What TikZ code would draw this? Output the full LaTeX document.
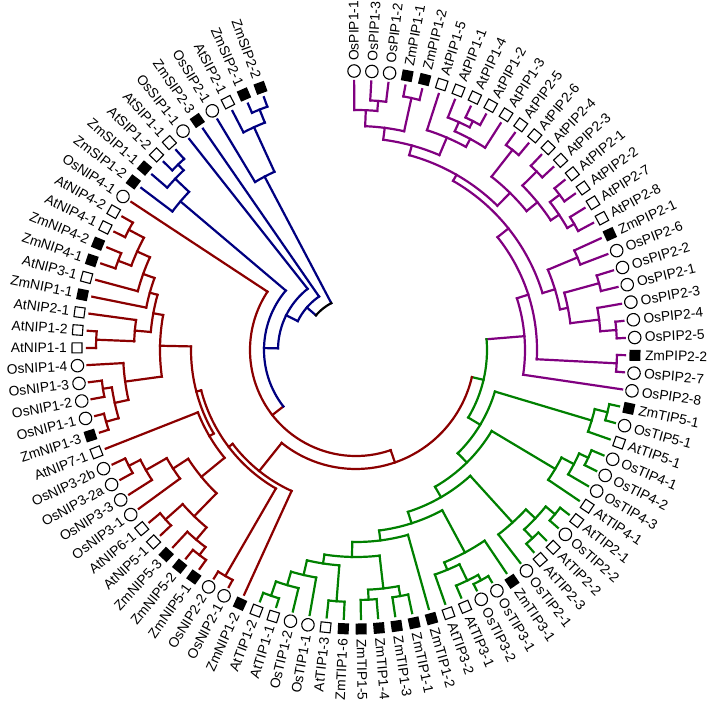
\documentclass[tikz,border=0pt]{standalone}
\usepackage{fontspec}
\setmainfont{Liberation Sans}
\definecolor{pipc}{RGB}{128,0,128}
\definecolor{tipc}{RGB}{0,128,0}
\definecolor{nipc}{RGB}{139,0,0}
\definecolor{sipc}{RGB}{0,0,128}
\tikzset{
  branch/.style={line width=2.2pt, line cap=rect},
  leaflabel/.style={font=\fontsize{13.8}{15}\selectfont, inner sep=1pt},
  markOs/.style={circle, draw, line width=1.1pt, minimum size=12.5pt, inner sep=0pt},
  markAt/.style={rectangle, draw, line width=1.1pt, minimum size=10pt, inner sep=0pt},
  markZm/.style={rectangle, fill=black, minimum size=11pt, inner sep=0pt}
}
% leaf: index, name, kind, colour
\newcommand\leaf[4]{%
  \pgfmathsetmacro\la{90.4-(#1-1)*3.66}%
  \expandafter\xdef\csname a@#2\endcsname{\la}%
  \expandafter\xdef\csname r@#2\endcsname{269}%
  \expandafter\xdef\csname c@#2\endcsname{#4}%
  \node[mark#3, rotate=\la] (sym#1) at (\la:279pt) {};
  \pgfmathtruncatemacro\side{\la<-90?1:0}%
  \ifnum\side=1
    \node[leaflabel, rotate=\la+180, anchor=east] (lab#1) at (\la:288pt) {#2};
  \else
    \node[leaflabel, rotate=\la, anchor=west] (lab#1) at (\la:288pt) {#2};
  \fi}
% clade: name, radius, child, child, colour
\newcommand\clade[5]{%
  \edef\cAa{\csname a@#3\endcsname}\edef\cAr{\csname r@#3\endcsname}\edef\cAc{\csname c@#3\endcsname}%
  \edef\cBa{\csname a@#4\endcsname}\edef\cBr{\csname r@#4\endcsname}\edef\cBc{\csname c@#4\endcsname}%
  \draw[branch, \cAc] (\cAa:\cAr pt) -- (\cAa:#2pt);
  \draw[branch, \cBc] (\cBa:\cBr pt) -- (\cBa:#2pt);
  \draw[branch, #5] (\cAa:#2pt) arc[start angle=\cAa, end angle=\cBa, radius=#2pt];
  \pgfmathsetmacro\cM{(\cAa+\cBa)/2}%
  \expandafter\xdef\csname a@#1\endcsname{\cM}%
  \expandafter\xdef\csname r@#1\endcsname{#2}%
  \expandafter\xdef\csname c@#1\endcsname{#5}}

\begin{document}
\begin{tikzpicture}[x=1pt,y=1pt]
\useasboundingbox (-356,-358) rectangle (356,350);
% leaves, clockwise from the top
\leaf{1}{OsPIP1-1}{Os}{pipc}
\leaf{2}{OsPIP1-3}{Os}{pipc}
\leaf{3}{OsPIP1-2}{Os}{pipc}
\leaf{4}{ZmPIP1-1}{Zm}{pipc}
\leaf{5}{ZmPIP1-2}{Zm}{pipc}
\leaf{6}{AtPIP1-5}{At}{pipc}
\leaf{7}{AtPIP1-1}{At}{pipc}
\leaf{8}{AtPIP1-4}{At}{pipc}
\leaf{9}{AtPIP1-2}{At}{pipc}
\leaf{10}{AtPIP1-3}{At}{pipc}
\leaf{11}{AtPIP2-5}{At}{pipc}
\leaf{12}{AtPIP2-6}{At}{pipc}
\leaf{13}{AtPIP2-4}{At}{pipc}
\leaf{14}{AtPIP2-3}{At}{pipc}
\leaf{15}{AtPIP2-1}{At}{pipc}
\leaf{16}{AtPIP2-2}{At}{pipc}
\leaf{17}{AtPIP2-7}{At}{pipc}
\leaf{18}{AtPIP2-8}{At}{pipc}
\leaf{19}{ZmPIP2-1}{Zm}{pipc}
\leaf{20}{OsPIP2-6}{Os}{pipc}
\leaf{21}{OsPIP2-2}{Os}{pipc}
\leaf{22}{OsPIP2-1}{Os}{pipc}
\leaf{23}{OsPIP2-3}{Os}{pipc}
\leaf{24}{OsPIP2-4}{Os}{pipc}
\leaf{25}{OsPIP2-5}{Os}{pipc}
\leaf{26}{ZmPIP2-2}{Zm}{pipc}
\leaf{27}{OsPIP2-7}{Os}{pipc}
\leaf{28}{OsPIP2-8}{Os}{pipc}
\leaf{29}{ZmTIP5-1}{Zm}{tipc}
\leaf{30}{OsTIP5-1}{Os}{tipc}
\leaf{31}{AtTIP5-1}{At}{tipc}
\leaf{32}{OsTIP4-1}{Os}{tipc}
\leaf{33}{OsTIP4-2}{Os}{tipc}
\leaf{34}{OsTIP4-3}{Os}{tipc}
\leaf{35}{AtTIP4-1}{At}{tipc}
\leaf{36}{AtTIP2-1}{At}{tipc}
\leaf{37}{OsTIP2-2}{Os}{tipc}
\leaf{38}{AtTIP2-2}{At}{tipc}
\leaf{39}{AtTIP2-3}{At}{tipc}
\leaf{40}{OsTIP2-1}{Os}{tipc}
\leaf{41}{ZmTIP3-1}{Zm}{tipc}
\leaf{42}{OsTIP3-1}{Os}{tipc}
\leaf{43}{OsTIP3-2}{Os}{tipc}
\leaf{44}{AtTIP3-1}{At}{tipc}
\leaf{45}{AtTIP3-2}{At}{tipc}
\leaf{46}{ZmTIP1-2}{Zm}{tipc}
\leaf{47}{ZmTIP1-1}{Zm}{tipc}
\leaf{48}{ZmTIP1-3}{Zm}{tipc}
\leaf{49}{ZmTIP1-4}{Zm}{tipc}
\leaf{50}{ZmTIP1-5}{Zm}{tipc}
\leaf{51}{ZmTIP1-6}{Zm}{tipc}
\leaf{52}{AtTIP1-3}{At}{tipc}
\leaf{53}{OsTIP1-1}{Os}{tipc}
\leaf{54}{OsTIP1-2}{Os}{tipc}
\leaf{55}{AtTIP1-1}{At}{tipc}
\leaf{56}{AtTIP1-2}{At}{tipc}
\leaf{57}{ZmNIP1-2}{Zm}{nipc}
\leaf{58}{OsNIP2-1}{Os}{nipc}
\leaf{59}{OsNIP2-2}{Os}{nipc}
\leaf{60}{ZmNIP5-1}{Zm}{nipc}
\leaf{61}{ZmNIP5-2}{Zm}{nipc}
\leaf{62}{ZmNIP5-3}{Zm}{nipc}
\leaf{63}{AtNIP5-1}{At}{nipc}
\leaf{64}{AtNIP6-1}{At}{nipc}
\leaf{65}{OsNIP3-1}{Os}{nipc}
\leaf{66}{OsNIP3-3}{Os}{nipc}
\leaf{67}{OsNIP3-2a}{Os}{nipc}
\leaf{68}{OsNIP3-2b}{Os}{nipc}
\leaf{69}{AtNIP7-1}{At}{nipc}
\leaf{70}{ZmNIP1-3}{Zm}{nipc}
\leaf{71}{OsNIP1-1}{Os}{nipc}
\leaf{72}{OsNIP1-2}{Os}{nipc}
\leaf{73}{OsNIP1-3}{Os}{nipc}
\leaf{74}{OsNIP1-4}{Os}{nipc}
\leaf{75}{AtNIP1-1}{At}{nipc}
\leaf{76}{AtNIP1-2}{At}{nipc}
\leaf{77}{AtNIP2-1}{At}{nipc}
\leaf{78}{ZmNIP1-1}{Zm}{nipc}
\leaf{79}{AtNIP3-1}{At}{nipc}
\leaf{80}{ZmNIP4-1}{Zm}{nipc}
\leaf{81}{ZmNIP4-2}{Zm}{nipc}
\leaf{82}{AtNIP4-1}{At}{nipc}
\leaf{83}{AtNIP4-2}{At}{nipc}
\leaf{84}{OsNIP4-1}{Os}{nipc}
\leaf{85}{ZmSIP1-2}{Zm}{sipc}
\leaf{86}{ZmSIP1-1}{Zm}{sipc}
\leaf{87}{AtSIP1-2}{At}{sipc}
\leaf{88}{AtSIP1-1}{At}{sipc}
\leaf{89}{OsSIP1-1}{Os}{sipc}
\leaf{90}{ZmSIP2-3}{Zm}{sipc}
\leaf{91}{OsSIP2-1}{Os}{sipc}
\leaf{92}{AtSIP2-1}{At}{sipc}
\leaf{93}{ZmSIP2-1}{Zm}{sipc}
\leaf{94}{ZmSIP2-2}{Zm}{sipc}
% PIP
\clade{p1}{250}{OsPIP1-3}{OsPIP1-2}{pipc}
\clade{p2}{240}{OsPIP1-1}{p1}{pipc}
\clade{p3}{258}{ZmPIP1-1}{ZmPIP1-2}{pipc}
\clade{p4}{224}{p2}{p3}{pipc}
\clade{p5}{257}{AtPIP1-4}{AtPIP1-2}{pipc}
\clade{p6}{250}{AtPIP1-1}{p5}{pipc}
\clade{p7}{240}{p6}{AtPIP1-3}{pipc}
\clade{p8}{231}{AtPIP1-5}{p7}{pipc}
\clade{p9}{212}{p4}{p8}{pipc}
\clade{p10}{254}{AtPIP2-5}{AtPIP2-6}{pipc}
\clade{p11}{254}{AtPIP2-4}{AtPIP2-3}{pipc}
\clade{p12}{256}{AtPIP2-1}{AtPIP2-2}{pipc}
\clade{p13}{252}{AtPIP2-7}{AtPIP2-8}{pipc}
\clade{p14}{244}{p12}{p13}{pipc}
\clade{p15}{234}{p11}{p14}{pipc}
\clade{p16}{220}{p10}{p15}{pipc}
\clade{zb}{202}{p9}{p16}{pipc}
\clade{p17}{240}{ZmPIP2-1}{OsPIP2-6}{pipc}
\clade{p18}{252}{OsPIP2-2}{OsPIP2-1}{pipc}
\clade{p19}{261}{OsPIP2-4}{OsPIP2-5}{pipc}
\clade{p20}{245}{OsPIP2-3}{p19}{pipc}
\clade{p21}{216}{p18}{p20}{pipc}
\clade{zc}{208}{p17}{p21}{pipc}
\clade{z}{195}{zb}{zc}{pipc}
\clade{p24}{261}{ZmPIP2-2}{OsPIP2-7}{pipc}
\clade{p26}{181}{z}{p24}{pipc}
\clade{pip}{169}{p26}{OsPIP2-8}{pipc}
% TIP
\clade{t1}{259}{ZmTIP5-1}{OsTIP5-1}{tipc}
\clade{t2}{246}{t1}{AtTIP5-1}{tipc}
\clade{t3}{256}{OsTIP4-1}{OsTIP4-2}{tipc}
\clade{t4}{246}{t3}{OsTIP4-3}{tipc}
\clade{t5}{232}{t4}{AtTIP4-1}{tipc}
\clade{t6}{258}{AtTIP2-1}{OsTIP2-2}{tipc}
\clade{t7}{258}{AtTIP2-2}{AtTIP2-3}{tipc}
\clade{t8}{246}{t6}{t7}{tipc}
\clade{t9}{233}{t8}{OsTIP2-1}{tipc}
\clade{t11}{262}{OsTIP3-1}{OsTIP3-2}{tipc}
\clade{t12}{256}{t11}{AtTIP3-1}{tipc}
\clade{t13}{238}{t12}{AtTIP3-2}{tipc}
\clade{t14}{230}{ZmTIP3-1}{t13}{tipc}
\clade{u1}{260}{AtTIP1-1}{AtTIP1-2}{tipc}
\clade{u2}{245}{OsTIP1-2}{u1}{tipc}
\clade{u3}{231}{OsTIP1-1}{u2}{tipc}
\clade{u4}{252}{ZmTIP1-6}{AtTIP1-3}{tipc}
\clade{u5}{216}{u4}{u3}{tipc}
\clade{v1}{250}{ZmTIP1-5}{ZmTIP1-4}{tipc}
\clade{v2}{250}{ZmTIP1-3}{ZmTIP1-1}{tipc}
\clade{v3}{240}{v1}{v2}{tipc}
\clade{w1}{207}{v3}{u5}{tipc}
\clade{w2}{192}{ZmTIP1-2}{w1}{tipc}
\clade{tD}{182}{t14}{w2}{tipc}
\clade{tC}{170}{t9}{tD}{tipc}
\clade{tB}{158}{t5}{tC}{tipc}
\clade{tip}{145}{t2}{tB}{tipc}
% NIP
\clade{n1}{261}{OsNIP2-1}{OsNIP2-2}{nipc}
\clade{n3}{258}{ZmNIP5-1}{ZmNIP5-2}{nipc}
\clade{n4}{248}{n3}{ZmNIP5-3}{nipc}
\clade{n5}{255}{AtNIP5-1}{AtNIP6-1}{nipc}
\clade{g1}{232}{n4}{n5}{nipc}
\clade{n8}{255}{OsNIP3-2a}{OsNIP3-2b}{nipc}
\clade{n9a}{242}{OsNIP3-3}{n8}{nipc}
\clade{n9}{218}{OsNIP3-1}{n9a}{nipc}
\clade{mA}{200}{g1}{n9}{nipc}
\clade{mB}{170}{mA}{AtNIP7-1}{nipc}
\clade{o1}{260}{ZmNIP1-3}{OsNIP1-1}{nipc}
\clade{o2}{256}{OsNIP1-2}{OsNIP1-3}{nipc}
\clade{o3}{247}{o1}{o2}{nipc}
\clade{o4}{233}{o3}{OsNIP1-4}{nipc}
\clade{a1}{260}{AtNIP1-1}{AtNIP1-2}{nipc}
\clade{a2}{222}{a1}{AtNIP2-1}{nipc}
\clade{m1}{254}{ZmNIP4-1}{ZmNIP4-2}{nipc}
\clade{m2}{257}{AtNIP4-1}{AtNIP4-2}{nipc}
\clade{m3}{240}{m1}{m2}{nipc}
\clade{m4}{226}{AtNIP3-1}{m3}{nipc}
\clade{m5}{214}{ZmNIP1-1}{m4}{nipc}
\clade{a3}{206}{a2}{m5}{nipc}
\clade{nN}{196}{o4}{a3}{nipc}
\clade{c3}{165}{mB}{nN}{nipc}
\clade{c2}{160}{n1}{c3}{nipc}
\clade{nip}{155}{ZmNIP1-2}{c2}{nipc}
% SIP
\clade{as1}{257}{AtSIP1-2}{AtSIP1-1}{sipc}
\clade{zq1}{249}{ZmSIP1-1}{as1}{sipc}
\clade{zq2}{230}{ZmSIP1-2}{zq1}{sipc}
\clade{s1}{259}{ZmSIP2-1}{ZmSIP2-2}{sipc}
\clade{s2}{245}{AtSIP2-1}{s1}{sipc}
\clade{s3}{196}{OsSIP2-1}{s2}{sipc}
% backbone
\clade{bA}{131}{pip}{tip}{tipc}
\clade{bB}{119}{nip}{bA}{nipc}
\clade{bC}{106}{bB}{OsNIP4-1}{nipc}
\clade{bE}{92}{bC}{zq2}{sipc}
\clade{bF}{78}{bE}{OsSIP1-1}{sipc}
\clade{bG}{65}{bF}{ZmSIP2-3}{sipc}
\clade{root}{53}{bG}{s3}{black}
\end{tikzpicture}
\end{document}
